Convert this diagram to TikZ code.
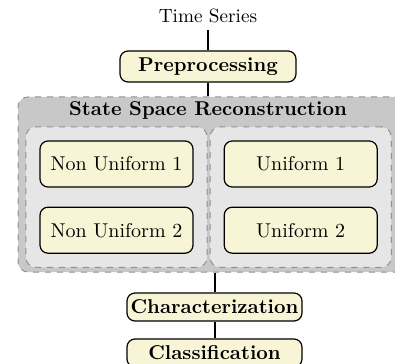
\documentclass[tikz,border=0pt]{standalone}
\usepackage{tikz}
\usetikzlibrary{positioning, fit, backgrounds}

\definecolor{boxyellow}{RGB}{248,245,214}
\definecolor{outergray}{RGB}{200,200,200}
\definecolor{innergray}{RGB}{230,230,230}
\definecolor{dashgray}{RGB}{145,145,145}

\begin{document}
\begin{tikzpicture}[node distance=9.5pt and 15pt,
		font=\fontsize{9.6pt}{11pt}\selectfont]

		\tikzset{step box/.style={draw, rounded corners=4pt,
								fill=boxyellow, line width=0.6pt,
								inner sep=1pt, minimum width=87.5pt,
								minimum height=14pt, font=\bfseries},
				 sub box/.style={step box, minimum width=76.5pt,
								minimum height=23pt, font=\mdseries},
				 group box/.style={draw=dashgray, dashed, line width=0.5pt,
								rounded corners=5pt, fill=innergray},
				 link/.style={line width=1pt}}

		\useasboundingbox (0,0) rectangle (197.5pt,-181.5pt);

		\node (ts) at (104pt,-8pt) {Time Series};
		\node[step box, minimum width=88pt, minimum height=15.5pt] (preproc) at (104pt,-33.25pt) {Preprocessing};

		\node[sub box] (nu1) at (58.25pt,-82pt) {Non Uniform 1};
		\node[sub box, below=of nu1] (nu2) {Non Uniform 2};
		\node[sub box, right=of nu1] (u1) {Uniform 1};
		\node[sub box, below=of u1] (u2) {Uniform 2};

		\begin{scope}[on background layer]
			\node[group box, fill=outergray, minimum width=196.5pt,
				  minimum height=87.5pt] (ssr) at (107.25pt,-92.25pt) {};
			\node[group box, fit=(nu1)(nu2), inner sep=6.75pt] (nonuni) {};
			\node[group box, fit=(u1)(u2), inner sep=6.75pt] (uni) {};
		\end{scope}
		\node[font=\bfseries] (ssrt) at (104pt,-55pt) {State Space Reconstruction};

		\node[step box] (char) at (107.25pt,-153.5pt) {Characterization};
		\node[step box] (cls) at (107.25pt,-176.5pt) {Classification};

		\draw[link] (ts) -- (preproc);
		\draw[link] (preproc) -- (preproc |- ssr.north);
		\draw[link] (ssr) -- (char);
		\draw[link] (char) -- (cls);
\end{tikzpicture}
\end{document}
